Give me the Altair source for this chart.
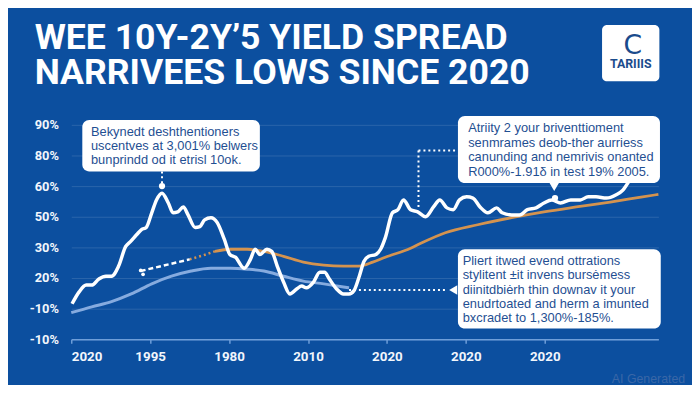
import altair as alt
import pandas as pd

# ---------------- data ----------------
title_lines = ["WEE 10Y-2Y’5 YIELD SPREAD", "NARRIVEES LOWS SINCE 2020"]
y_labels = ["-10%", "-10%", "20%", "30%", "50%", "60%", "80%", "90%"]
x_labels = ["2020", "1995", "1980", "2010", "2020", "2020", "2020"]

white_x = [0.01, 0.10, 0.19, 0.26, 0.35, 0.44, 0.51, 0.60, 0.69, 0.75, 0.83, 0.89, 0.95, 1.02,
           1.08, 1.15, 1.23, 1.29, 1.35, 1.42, 1.48, 1.57, 1.63, 1.69, 1.77, 1.85, 1.94, 2.01,
           2.08, 2.19, 2.27, 2.33, 2.39, 2.48, 2.54, 2.61, 2.69, 2.77, 2.86, 2.92, 2.98, 3.07,
           3.15, 3.21, 3.27, 3.36, 3.45, 3.52, 3.58, 3.65, 3.71, 3.77, 3.86, 3.92, 3.98, 4.07,
           4.14, 4.21, 4.30, 4.39, 4.49, 4.59, 4.67, 4.76, 4.84, 4.92, 5.01, 5.09, 5.18, 5.28,
           5.39, 5.46, 5.58, 5.68, 5.78, 5.89, 5.99, 6.09, 6.20, 6.33, 6.45, 6.55, 6.65, 6.78,
           6.90, 6.99, 7.06]
white_y = [1.16, 1.55, 1.77, 1.77, 1.97, 2.06, 2.06, 2.39, 3.03, 3.19, 3.42, 3.58, 3.65, 4.13,
           4.55, 4.77, 4.45, 4.13, 4.16, 4.32, 4.06, 3.65, 3.68, 3.90, 3.97, 3.81, 3.26, 2.77,
           2.68, 2.32, 2.61, 2.94, 2.77, 2.94, 2.87, 2.39, 1.87, 1.48, 1.65, 1.74, 1.68, 1.87,
           2.19, 2.19, 1.97, 1.65, 1.48, 1.48, 1.58, 2.06, 2.55, 2.71, 2.77, 2.94, 3.32, 4.13,
           4.23, 4.55, 4.23, 4.16, 4.00, 4.32, 4.55, 4.29, 4.23, 4.55, 4.65, 4.61, 4.32, 4.13,
           4.29, 4.13, 4.06, 4.06, 4.23, 4.29, 4.45, 4.55, 4.45, 4.55, 4.55, 4.65, 4.65, 4.61,
           4.71, 4.87, 5.13]

orange_x = [1.82, 2.02, 2.23, 2.44, 2.69, 2.94, 3.20, 3.45, 3.65, 3.82, 3.98, 4.30, 4.45,
            4.74, 5.15, 5.58, 5.99, 6.40, 6.83, 7.24, 7.44]
orange_y = [2.87, 2.94, 2.94, 2.87, 2.71, 2.52, 2.42, 2.39, 2.39, 2.52, 2.68, 2.97, 3.16,
            3.48, 3.74, 3.97, 4.16, 4.32, 4.48, 4.65, 4.73]
orange_lead_x = [1.50, 1.67, 1.82]
orange_lead_y = [2.61, 2.74, 2.87]
white_lead_x = [0.88, 1.50]
white_lead_y = [2.23, 2.61]
lead_mark_x = [0.88, 0.91]
lead_mark_y = [2.25, 2.12]

blue_x = [0.00, 0.26, 0.51, 0.76, 1.02, 1.27, 1.52, 1.77, 2.02, 2.23, 2.44, 2.69, 2.94,
          3.20, 3.45, 3.52]
blue_y = [0.87, 1.06, 1.23, 1.48, 1.81, 2.06, 2.23, 2.32, 2.32, 2.29, 2.23, 2.06, 1.90,
          1.81, 1.71, 1.68]

box_x = [0.14, 4.90, 4.90]
box_x2 = [2.39, 7.46, 7.47]
box_y = [7.16, 7.29, 2.94]
box_y2 = [5.48, 5.10, 0.35]

note1 = ["Bekynedt deshthentioners", "uscentves at 3,001% belwers",
         "bunprindd od it etrisl 10ok."]
note1_x = 0.25
note1_y = [6.77, 6.32, 5.84]
note2 = ["Atriity 2 your briventtioment", "senmrames deob-ther aurriess",
         "canunding and nemrivis onanted", "R000%-1.91δ in test 19% 2005."]
note2_x = 5.03
note2_y = [6.90, 6.39, 5.94, 5.45]
note3 = ["Pliert itwed evend ottrations", "stylitent ±it invens bursėmess",
         "diinitdbiėrh thin downav it your", "enudrtoated and herm a imunted",
         "bxcradet to 1,300%-185%."]
note3_x = 4.96
note3_y = [2.55, 2.10, 1.61, 1.16, 0.71]

conn_x = [1.15, 4.40, 4.40, 3.52]
conn_x2 = [1.15, 4.89, 4.40, 4.74]
conn_y = [5.48, 6.16, 6.16, 1.61]
conn_y2 = [5.05, 6.16, 4.32, 1.61]

dot_x = [1.15, 6.13]
dot_y = [5.00, 4.61]

logo_text = "TARIIIS"
watermark = "AI Generated"

# ---------------- styling ----------------
BG = "#0c4f9f"
TXT = "#1f4f92"

xs = alt.Scale(domain=[0, 7.44], nice=False, zero=False)
ys = alt.Scale(domain=[0, 7], nice=False, zero=False)

xlab_expr = "[" + ",".join("'%s'" % s for s in x_labels) + "][datum.value]"
ylab_expr = "[" + ",".join("'%s'" % s for s in y_labels) + "][datum.value]"

X = alt.X("x:Q", scale=xs, title=None,
          axis=alt.Axis(values=list(range(len(x_labels))), labelExpr=xlab_expr,
                        grid=False, domain=True, domainColor="#6e9ed9", domainWidth=1.5,
                        ticks=True, tickColor="#6e9ed9", tickSize=4, tickWidth=1.5,
                        labelColor="#f2f6fc", labelFont="Roboto", labelFontWeight="bold",
                        labelFontSize=13.5, labelPadding=6))
Y = alt.Y("y:Q", scale=ys, title=None,
          axis=alt.Axis(values=list(range(len(y_labels))), labelExpr=ylab_expr,
                        grid=True, gridColor="#ffffff", gridOpacity=0.13, gridWidth=1,
                        domain=False, ticks=False,
                        labelColor="#f2f6fc", labelFont="Roboto", labelFontWeight="bold",
                        labelFontSize=13, labelPadding=13))

blue_df = pd.DataFrame({"x": blue_x, "y": blue_y})
white_df = pd.DataFrame({"x": white_x, "y": white_y})
orange_df = pd.DataFrame({"x": orange_x, "y": orange_y})
olead_df = pd.DataFrame({"x": orange_lead_x, "y": orange_lead_y})
wlead_df = pd.DataFrame({"x": white_lead_x, "y": white_lead_y})
lmark_df = pd.DataFrame({"x": lead_mark_x, "y": lead_mark_y})
box_df = pd.DataFrame({"x": box_x, "x2": box_x2, "y": box_y, "y2": box_y2})
conn_df = pd.DataFrame({"x": conn_x, "x2": conn_x2, "y": conn_y, "y2": conn_y2})
dot_df = pd.DataFrame({"x": dot_x, "y": dot_y})
notes_df = pd.DataFrame({
    "x": [note1_x] * len(note1) + [note2_x] * len(note2) + [note3_x] * len(note3),
    "y": note1_y + note2_y + note3_y,
    "t": note1 + note2 + note3,
})

blue_line = alt.Chart(blue_df).mark_line(
    color="#93b5e6", strokeWidth=3, opacity=0.9, interpolate="monotone").encode(x=X, y=Y)
orange_line = alt.Chart(orange_df).mark_line(
    color="#d4934f", strokeWidth=2.8, interpolate="monotone").encode(x=X, y=Y)
orange_lead = alt.Chart(olead_df).mark_line(
    color="#d4934f", strokeWidth=2.5, strokeDash=[2, 3]).encode(x=X, y=Y)
white_lead = alt.Chart(wlead_df).mark_line(
    color="white", strokeWidth=2.5, strokeDash=[5, 3]).encode(x=X, y=Y)
lead_marks = alt.Chart(lmark_df).mark_point(
    filled=True, color="white", opacity=1, size=14).encode(x=X, y=Y)
white_line = alt.Chart(white_df).mark_line(
    color="white", strokeWidth=3.5, interpolate="monotone").encode(x=X, y=Y)

connectors = alt.Chart(conn_df).mark_rule(
    color="white", strokeWidth=2, strokeDash=[2, 3]).encode(x=X, x2="x2:Q", y=Y, y2="y2:Q")
dots = alt.Chart(dot_df).mark_point(
    filled=True, color="white", opacity=1, size=40).encode(x=X, y=Y)

boxes = alt.Chart(box_df).mark_rect(
    color="white", cornerRadius=7).encode(x=X, x2="x2:Q", y=Y, y2="y2:Q")
pointer2 = alt.Chart(pd.DataFrame({"x": [6.12], "y": [4.97]})).mark_point(
    shape="triangle-down", filled=True, color="white", opacity=1, size=90).encode(x=X, y=Y)
pointer3 = alt.Chart(pd.DataFrame({"x": [4.84], "y": [1.61]})).mark_point(
    shape="triangle-left", filled=True, color="white", opacity=1, size=90).encode(x=X, y=Y)

notes = alt.Chart(notes_df).mark_text(
    align="left", baseline="middle", font="Liberation Sans", fontSize=13,
    color=TXT).encode(x=X, y=Y, text="t:N")

one = pd.DataFrame({"a": [0]})
title = alt.Chart(one).mark_text(
    align="left", baseline="alphabetic", font="Roboto", fontWeight="bold",
    fontSize=36, lineHeight=36, color="white").encode(
    x=alt.value(-37), y=alt.value(-77), text=alt.value(title_lines))
logo_box = alt.Chart(one).mark_rect(color="white", cornerRadius=5).encode(
    x=alt.value(537), x2=alt.value(595), y=alt.value(-101), y2=alt.value(-44))
logo_c = alt.Chart(one).mark_text(
    align="center", baseline="middle", font="DejaVu Sans", fontWeight="normal",
    fontSize=27, color="#1a4b8c").encode(x=alt.value(568), y=alt.value(-80),
                                          text=alt.value("C"))
logo_t = alt.Chart(one).mark_text(
    align="center", baseline="middle", font="Roboto", fontWeight="bold",
    fontSize=12.5, color="#1a4b8c").encode(x=alt.value(566), y=alt.value(-61),
                                            text=alt.value(logo_text))
wm = alt.Chart(one).mark_text(
    align="center", baseline="middle", font="Liberation Sans", fontSize=12.5,
    color="#3a67a7").encode(x=alt.value(584), y=alt.value(257), text=alt.value(watermark))

chart = alt.layer(
    blue_line, orange_lead, orange_line, white_lead, lead_marks, white_line,
    connectors, dots, boxes, pointer2, pointer3, notes,
    title, logo_box, logo_c, logo_t, wm,
).properties(
    width=594, height=217,
    autosize=alt.AutoSizeParams(type="none"),
    padding={"left": 64, "top": 116, "right": 34, "bottom": 44},
    background=BG,
).configure_view(stroke=None)

chart.save("out.html", embed_options={"renderer": "svg", "actions": False})
